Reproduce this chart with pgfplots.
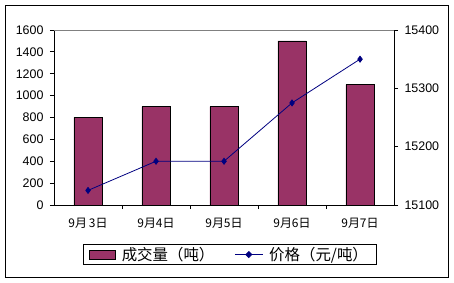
\documentclass[border=0pt]{standalone}
\usepackage{pgfplots}
\pgfplotsset{compat=1.18}
\usepackage{fontspec}
\setmainfont{Liberation Sans}
\newfontfamily\cjk{Noto Sans CJK SC}
\definecolor{plum}{HTML}{993366}
\definecolor{navyc}{HTML}{000080}
\begin{document}
\begin{tikzpicture}
\path[use as bounding box] (0bp,0bp) rectangle (454bp,283bp);
\draw[black, line width=1bp] (5.5bp,5.5bp) rectangle (448.5bp,277.5bp);
\begin{axis}[at={(54bp,78bp)}, anchor=south west,
  scale only axis, width=340bp, height=175bp,
  xmin=-0.5, xmax=4.5, ymin=0, ymax=1600,
  ytick={0,200,...,1600},
  axis x line*=bottom, axis y line*=left,
  axis line style={line width=0.8bp},
  xtick={0.5,1.5,2.5,3.5}, xticklabels={},
  extra x ticks={0,1,2,3,4},
  extra x tick labels={9月\,3日,9月4日,9月5日,9月6日,9月7日},
  extra x tick style={major tick length=0pt, tick label style={font=\cjk\fontsize{12}{12}\selectfont, yshift=-10bp}},
  x tick style={line width=0.8bp, black},
  y tick style={line width=0.8bp, black},
  xtick align=inside, ytick align=outside,
  major tick length=4bp,
  tick label style={font=\fontsize{12.5}{12}\selectfont},
  yticklabel style={xshift=-3bp},
  /pgf/number format/assume math mode=true,
  /pgf/number format/1000 sep={},
  ybar, bar width=28bp,
  clip=false,
]
\addplot[fill=plum, draw=black, line width=0.8bp] coordinates {(0,800) (1,900) (2,900) (3,1500) (4,1100)};
\draw[gray, line width=0.8bp] (rel axis cs:0,1) -- (rel axis cs:1,1);
\end{axis}
\begin{axis}[at={(54bp,78bp)}, anchor=south west,
  scale only axis, width=340bp, height=175bp,
  xmin=-0.5, xmax=4.5, ymin=15100, ymax=15400,
  ytick={15100,15200,15300,15400},
  scaled y ticks=false,
  axis x line=none, axis y line*=right,
  axis line style={line width=0.8bp},
  y tick style={line width=0.8bp, black},
  ytick align=outside, major tick length=4bp,
  tick label style={font=\fontsize{12.5}{12}\selectfont},
  yticklabel style={xshift=3bp},
  /pgf/number format/assume math mode=true,
  /pgf/number format/1000 sep={},
  legend columns=2,
  legend style={at={(0.516,-0.283)}, anchor=center, draw=black, line width=0.8bp,
    font=\cjk\fontsize{15.5}{16}\selectfont, inner xsep=6bp, inner ysep=0.5bp,
    /tikz/every odd column/.append style={column sep=4bp},
    /tikz/every even column/.append style={column sep=18bp}},
]
\addlegendimage{legend image code/.code={\draw[fill=plum, draw=black, line width=0.8bp] (0bp,-4.5bp) rectangle (26bp,4.5bp);}}
\addlegendentry{成交量（吨）}
\addplot[navyc, line width=0.8bp, mark=diamond*, mark size=3bp, mark options={fill=navyc},
  legend image code/.code={\draw[navyc, line width=0.8bp] (0bp,0bp) -- (28bp,0bp); \fill[navyc] (14bp,3bp) -- (17bp,0bp) -- (14bp,-3bp) -- (11bp,0bp) -- cycle;}]
  coordinates {(0,15125) (1,15175) (2,15175) (3,15275) (4,15350)};
\addlegendentry{价格（元/吨）}
\end{axis}
\end{tikzpicture}
\end{document}
